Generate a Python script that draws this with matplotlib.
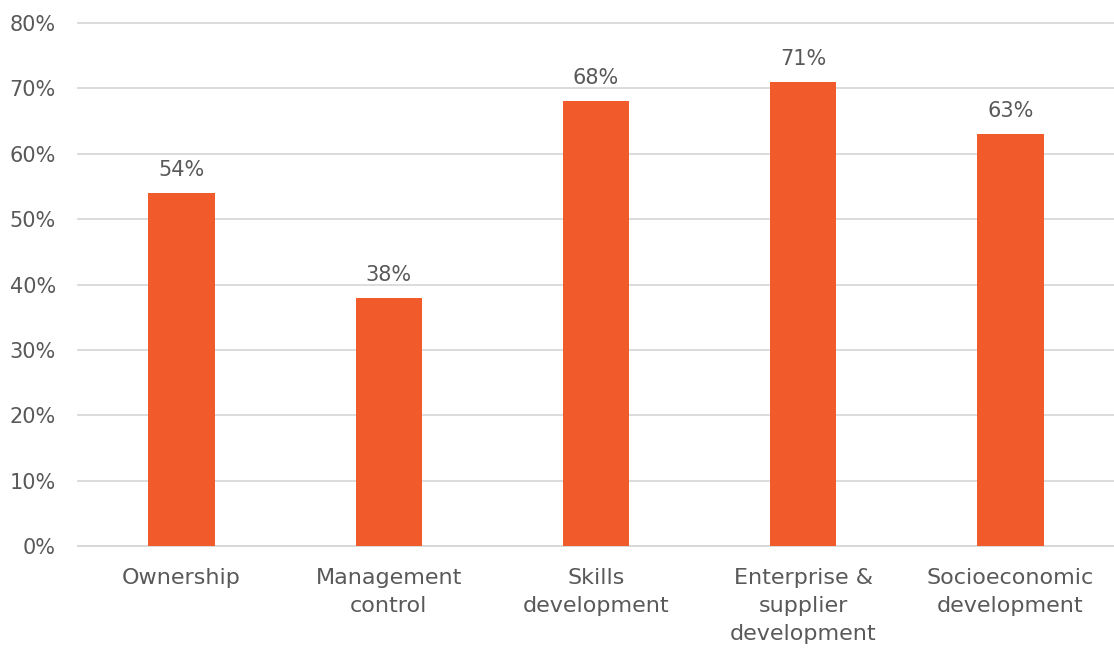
import matplotlib
matplotlib.use("Agg")
import matplotlib.pyplot as plt
from matplotlib.ticker import FuncFormatter

categories = ["Ownership", "Management\ncontrol", "Skills\ndevelopment",
              "Enterprise &\nsupplier\ndevelopment", "Socioeconomic\ndevelopment"]
values = [54, 38, 68, 71, 63]
y_ticks = [0, 10, 20, 30, 40, 50, 60, 70, 80]

bar_color = "#F15A2B"
text_color = "#595959"
grid_color = "#D9D9D9"

plt.rcParams["font.family"] = ["DejaVu Sans"]

fig = plt.figure(figsize=(11.14, 6.48), dpi=100)
ax = fig.add_axes([0.070, 0.1574, 0.930, 0.8071])

x = list(range(len(categories)))
ax.bar(x, values, width=0.32, color=bar_color, zorder=3)

for xi, v in zip(x, values):
    ax.text(xi, v + 2.0, f"{v}%", ha="center", va="bottom",
            fontsize=15, color=text_color)

ax.set_xlim(-0.5, len(categories) - 0.5)
ax.set_ylim(0, 80)
ax.set_yticks(y_ticks)
ax.yaxis.set_major_formatter(FuncFormatter(lambda v, _: f"{v:.0f}%"))
ax.set_xticks(x)
ax.set_xticklabels(categories, fontsize=16, color=text_color, linespacing=1.48)
ax.tick_params(axis="y", labelsize=15, labelcolor=text_color, length=0, pad=16)
ax.tick_params(axis="x", length=0, pad=16)

ax.grid(axis="y", color=grid_color, linewidth=1.3, zorder=0)
for line in ax.get_ygridlines():
    line.set_clip_on(False)
for side in ["top", "right", "left"]:
    ax.spines[side].set_visible(False)
ax.spines["bottom"].set_color(grid_color)
ax.spines["bottom"].set_linewidth(1.3)

fig.savefig("out.png", dpi=100, facecolor="white")
